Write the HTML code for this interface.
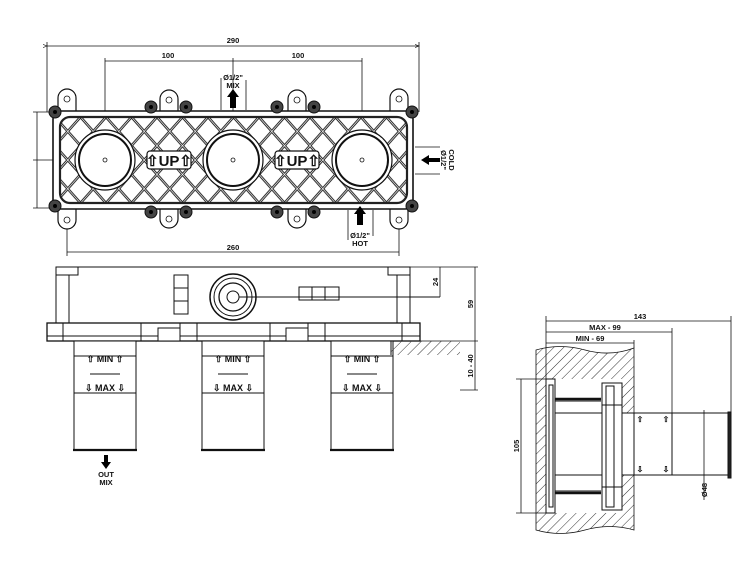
<!DOCTYPE html>
<html><head><meta charset="utf-8"><style>
html,body{margin:0;padding:0;background:#fff}
svg{display:block}
text{font-family:"Liberation Sans",sans-serif;font-weight:bold;fill:#111}
</style></head><body>
<svg width="750" height="563" viewBox="0 0 750 563" xmlns="http://www.w3.org/2000/svg">
<defs>
<pattern id="lat" x="55" y="117" width="25.5" height="28.7" patternUnits="userSpaceOnUse">
<path d="M0,0 L25.5,28.7 M25.5,0 L0,28.7" stroke="#222" stroke-width="2.6"/>
<path d="M0,0 L25.5,28.7 M25.5,0 L0,28.7" stroke="#fff" stroke-width="0.7"/>
</pattern>
<pattern id="hat" width="7" height="7" patternUnits="userSpaceOnUse" patternTransform="rotate(45)">
<line x1="0" y1="0" x2="0" y2="7" stroke="#333" stroke-width="1"/>
</pattern>
<clipPath id="inner"><rect x="60" y="117" width="347" height="86" rx="10"/></clipPath>
<marker id="ar" markerWidth="6" markerHeight="6" refX="5" refY="3" orient="auto"><path d="M0,1 L5,3 L0,5" fill="none" stroke="#111" stroke-width="0.8"/></marker>
</defs>
<g stroke="#111" fill="none" stroke-width="0.8">
<line x1="47" y1="46" x2="419" y2="46" marker-start="url(#ar)" marker-end="url(#ar)"/>
<line x1="47" y1="42" x2="47" y2="112"/><line x1="419" y1="42" x2="419" y2="112"/>
<line x1="105" y1="61" x2="362" y2="61"/>
<line x1="105" y1="58" x2="105" y2="160"/><line x1="233" y1="58" x2="233" y2="160"/><line x1="362" y1="58" x2="362" y2="160"/>
<line x1="67" y1="252" x2="399" y2="252"/>
<line x1="67" y1="217" x2="67" y2="256"/><line x1="399" y1="217" x2="399" y2="256"/>
<line x1="37" y1="112" x2="37" y2="208"/>
<line x1="33" y1="112" x2="55" y2="112"/><line x1="33" y1="208" x2="55" y2="208"/><line x1="33" y1="160" x2="105" y2="160"/>
<line x1="221" y1="78" x2="221" y2="110"/><line x1="246" y1="80" x2="246" y2="110"/>
<line x1="415" y1="147" x2="440" y2="147"/><line x1="415" y1="174" x2="440" y2="174"/>
<line x1="348" y1="210" x2="348" y2="240"/><line x1="373" y1="210" x2="373" y2="236"/>
</g>
<g stroke="#111" stroke-width="1.2" fill="#fff">
<path d="M58,112 V98 a9,9 0 0 1 18,0 V112 Z"/><path d="M390,112 V98 a9,9 0 0 1 18,0 V112 Z"/>
<path d="M160,112 V99 a9,9 0 0 1 18,0 V112 Z"/><path d="M288,112 V99 a9,9 0 0 1 18,0 V112 Z"/>
<path d="M58,208 V220 a9,9 0 0 0 18,0 V208 Z"/><path d="M390,208 V220 a9,9 0 0 0 18,0 V208 Z"/>
<path d="M160,208 V219 a9,9 0 0 0 18,0 V208 Z"/><path d="M288,208 V219 a9,9 0 0 0 18,0 V208 Z"/>
<rect x="53" y="111" width="360" height="98" rx="8" stroke-width="1.6"/>
</g>
<g clip-path="url(#inner)"><rect x="55" y="112" width="360" height="96" fill="url(#lat)"/></g>
<rect x="60" y="117" width="347" height="86" rx="10" fill="none" stroke="#222" stroke-width="2.2"/>
<g stroke="#111" fill="#fff">
<circle cx="105" cy="160" r="30" stroke-width="1.2"/><circle cx="105" cy="160" r="26" stroke-width="2"/>
<circle cx="233" cy="160" r="30" stroke-width="1.2"/><circle cx="233" cy="160" r="26" stroke-width="2"/>
<circle cx="362" cy="160" r="30" stroke-width="1.2"/><circle cx="362" cy="160" r="26" stroke-width="2"/>
<circle cx="105" cy="160" r="2" stroke-width="0.8"/><circle cx="233" cy="160" r="2" stroke-width="0.8"/><circle cx="362" cy="160" r="2" stroke-width="0.8"/>
<rect x="147" y="151" width="44" height="18" rx="3" stroke-width="1.2"/>
<rect x="275" y="151" width="44" height="18" rx="3" stroke-width="1.2"/>
<g stroke-width="0.8"><circle cx="67" cy="99" r="3"/><circle cx="399" cy="99" r="3"/><circle cx="169" cy="100" r="3"/><circle cx="297" cy="100" r="3"/>
<circle cx="67" cy="220" r="3"/><circle cx="399" cy="220" r="3"/><circle cx="169" cy="219" r="3"/><circle cx="297" cy="219" r="3"/></g>
</g>
<g fill="#444" stroke="#111" stroke-width="1">
<circle cx="55" cy="112" r="6"/><circle cx="412" cy="112" r="6"/><circle cx="55" cy="206" r="6"/><circle cx="412" cy="206" r="6"/>
<circle cx="151" cy="107" r="6"/><circle cx="186" cy="107" r="6"/><circle cx="277" cy="107" r="6"/><circle cx="314" cy="107" r="6"/>
<circle cx="151" cy="212" r="6"/><circle cx="186" cy="212" r="6"/><circle cx="277" cy="212" r="6"/><circle cx="314" cy="212" r="6"/>
</g>
<g fill="#000"><circle cx="55" cy="112" r="2"/><circle cx="412" cy="112" r="2"/><circle cx="55" cy="206" r="2"/><circle cx="412" cy="206" r="2"/>
<circle cx="151" cy="107" r="2"/><circle cx="186" cy="107" r="2"/><circle cx="277" cy="107" r="2"/><circle cx="314" cy="107" r="2"/>
<circle cx="151" cy="212" r="2"/><circle cx="186" cy="212" r="2"/><circle cx="277" cy="212" r="2"/><circle cx="314" cy="212" r="2"/></g>
<text x="169" y="166" font-size="15" text-anchor="middle">⇧UP⇧</text>
<text x="297" y="166" font-size="15" text-anchor="middle">⇧UP⇧</text>
<g font-size="7.5" text-anchor="middle">
<text x="233" y="43">290</text><text x="168" y="58">100</text><text x="298" y="58">100</text>
<text x="233" y="250">260</text>
<text x="233" y="80">Ø1/2"</text><text x="233" y="88">MIX</text>
<text x="360" y="238">Ø1/2"</text><text x="360" y="246">HOT</text>
<text transform="translate(441,160) rotate(90)">Ø1/2"</text><text transform="translate(449,160) rotate(90)">COLD</text>
</g>
<g fill="#000">
<path d="M230,108 V97 H227 L233,89 L239,97 H236 V108 Z"/>
<path d="M357,225 V214 H354 L360,206 L366,214 H363 V225 Z"/>
<path d="M440,158 H429 V155 L421,160 L429,165 V162 H440 Z"/>
</g>

<g stroke="#111" fill="#fff" stroke-width="1">
<rect x="56" y="267" width="354" height="57"/>
<path d="M56,267 V275 H78 V267 M388,267 V275 H410 V267" fill="none"/>
<line x1="69" y1="275" x2="69" y2="323"/><line x1="397" y1="275" x2="397" y2="323"/>
<rect x="174" y="275" width="14" height="39"/><line x1="174" y1="288" x2="188" y2="288"/><line x1="174" y1="301" x2="188" y2="301"/>
<rect x="299" y="287" width="40" height="13"/><line x1="312" y1="287" x2="312" y2="300"/><line x1="325" y1="287" x2="325" y2="300"/>
<circle cx="233" cy="297" r="23" stroke-width="1.5"/><circle cx="233" cy="297" r="19"/><circle cx="233" cy="297" r="14" stroke-width="1.3"/><circle cx="233" cy="297" r="6"/>
<line x1="239" y1="297" x2="440" y2="297" fill="none"/>
<rect x="47" y="323" width="373" height="18" stroke-width="1.3"/>
<line x1="47" y1="336" x2="420" y2="336"/>
<g fill="none"><line x1="141" y1="323" x2="141" y2="341"/><line x1="180" y1="323" x2="180" y2="341"/><line x1="197" y1="323" x2="197" y2="341"/><line x1="270" y1="323" x2="270" y2="341"/><line x1="308" y1="323" x2="308" y2="341"/><line x1="325" y1="323" x2="325" y2="341"/>
<line x1="63" y1="323" x2="63" y2="341"/><line x1="402" y1="323" x2="402" y2="341"/></g>
<rect x="158" y="328" width="22" height="13"/><rect x="286" y="328" width="22" height="13"/>
<rect x="74" y="341" width="62" height="109"/><rect x="202" y="341" width="62" height="109"/><rect x="331" y="341" width="62" height="109"/>
<g fill="none"><line x1="74" y1="356" x2="136" y2="356"/><line x1="74" y1="393" x2="136" y2="393"/>
<line x1="202" y1="356" x2="264" y2="356"/><line x1="202" y1="393" x2="264" y2="393"/>
<line x1="331" y1="356" x2="393" y2="356"/><line x1="331" y1="393" x2="393" y2="393"/>
<line x1="90" y1="374" x2="120" y2="374"/><line x1="218" y1="374" x2="248" y2="374"/><line x1="347" y1="374" x2="377" y2="374"/></g>
<g stroke-width="2.2"><line x1="73" y1="450" x2="137" y2="450"/><line x1="201" y1="450" x2="265" y2="450"/><line x1="330" y1="450" x2="394" y2="450"/></g>
</g>
<rect x="391" y="341" width="69" height="14" fill="url(#hat)"/>
<line x1="391" y1="341" x2="391" y2="355" stroke="#111"/>
<g stroke="#111" stroke-width="0.8" fill="none">
<line x1="410" y1="267" x2="478" y2="267"/><line x1="420" y1="341" x2="478" y2="341"/><line x1="460" y1="390" x2="478" y2="390"/>
<line x1="440" y1="267" x2="440" y2="297"/><line x1="475" y1="267" x2="475" y2="341"/><line x1="475" y1="341" x2="475" y2="390"/>
</g>
<g fill="#000"><path d="M104,455 V462 H101 L106,469 L111,462 H108 V455 Z"/></g>
<g font-size="7.5" text-anchor="middle">
<text x="105" y="362" font-size="9">⇧ MIN ⇧</text><text x="233" y="362" font-size="9">⇧ MIN ⇧</text><text x="362" y="362" font-size="9">⇧ MIN ⇧</text>
<text x="105" y="391" font-size="9">⇩ MAX ⇩</text><text x="233" y="391" font-size="9">⇩ MAX ⇩</text><text x="362" y="391" font-size="9">⇩ MAX ⇩</text>
<text x="106" y="477">OUT</text><text x="106" y="485">MIX</text>
<text transform="translate(438,282) rotate(-90)">24</text>
<text transform="translate(473,304) rotate(-90)">59</text>
<text transform="translate(473,366) rotate(-90)">10 - 40</text>
</g>

<path d="M536,350 Q560,343 585,350 T634,348 V530 Q610,523 585,530 T536,530 Z" fill="url(#hat)" stroke="#111" stroke-width="0.8"/>
<g stroke="#111" fill="#fff" stroke-width="1">
<rect x="548" y="379" width="74" height="134" stroke="none"/>
<rect x="552" y="413" width="84" height="62" stroke="none"/>
<path d="M553,401 H601 M553,491 H601 M553,413 H634 M553,475 H634" fill="none"/>
<line x1="553" y1="399" x2="601" y2="399" stroke-width="2.5"/><line x1="553" y1="493" x2="601" y2="493" stroke-width="2.5"/>
<rect x="546" y="379" width="9" height="134"/><rect x="549" y="385" width="4" height="122"/>
<rect x="602" y="383" width="20" height="127"/><rect x="606" y="386" width="8" height="121"/>
<line x1="602" y1="405" x2="622" y2="405"/><line x1="602" y1="487" x2="622" y2="487"/>
<path d="M634,413 H728 M634,475 H728 M672,413 V475 M634,413 V475" fill="none"/>
<rect x="728" y="412" width="3" height="66" fill="#222"/>
</g>
<g stroke="#111" stroke-width="0.8" fill="none">
<line x1="546" y1="316" x2="546" y2="379"/><line x1="731" y1="316" x2="731" y2="412"/><line x1="672" y1="328" x2="672" y2="413"/><line x1="634" y1="340" x2="634" y2="348"/>
<line x1="546" y1="321" x2="731" y2="321"/><line x1="546" y1="332" x2="672" y2="332"/><line x1="546" y1="343" x2="634" y2="343"/>
<line x1="516" y1="379" x2="546" y2="379"/><line x1="516" y1="513" x2="546" y2="513"/><line x1="521" y1="379" x2="521" y2="513"/>
<line x1="704" y1="410" x2="704" y2="500"/>
</g>
<g font-size="7.5" text-anchor="middle">
<text x="640" y="319">143</text><text x="605" y="330">MAX - 99</text><text x="590" y="341">MIN - 69</text>
<text transform="translate(519,446) rotate(-90)">105</text>
<text transform="translate(707,490) rotate(-90)">Ø48</text>
<text x="640" y="422" font-size="8">⇧</text><text x="666" y="422" font-size="8">⇧</text>
<text x="640" y="472" font-size="8">⇩</text><text x="666" y="472" font-size="8">⇩</text>
</g>
</svg>
</body></html>
